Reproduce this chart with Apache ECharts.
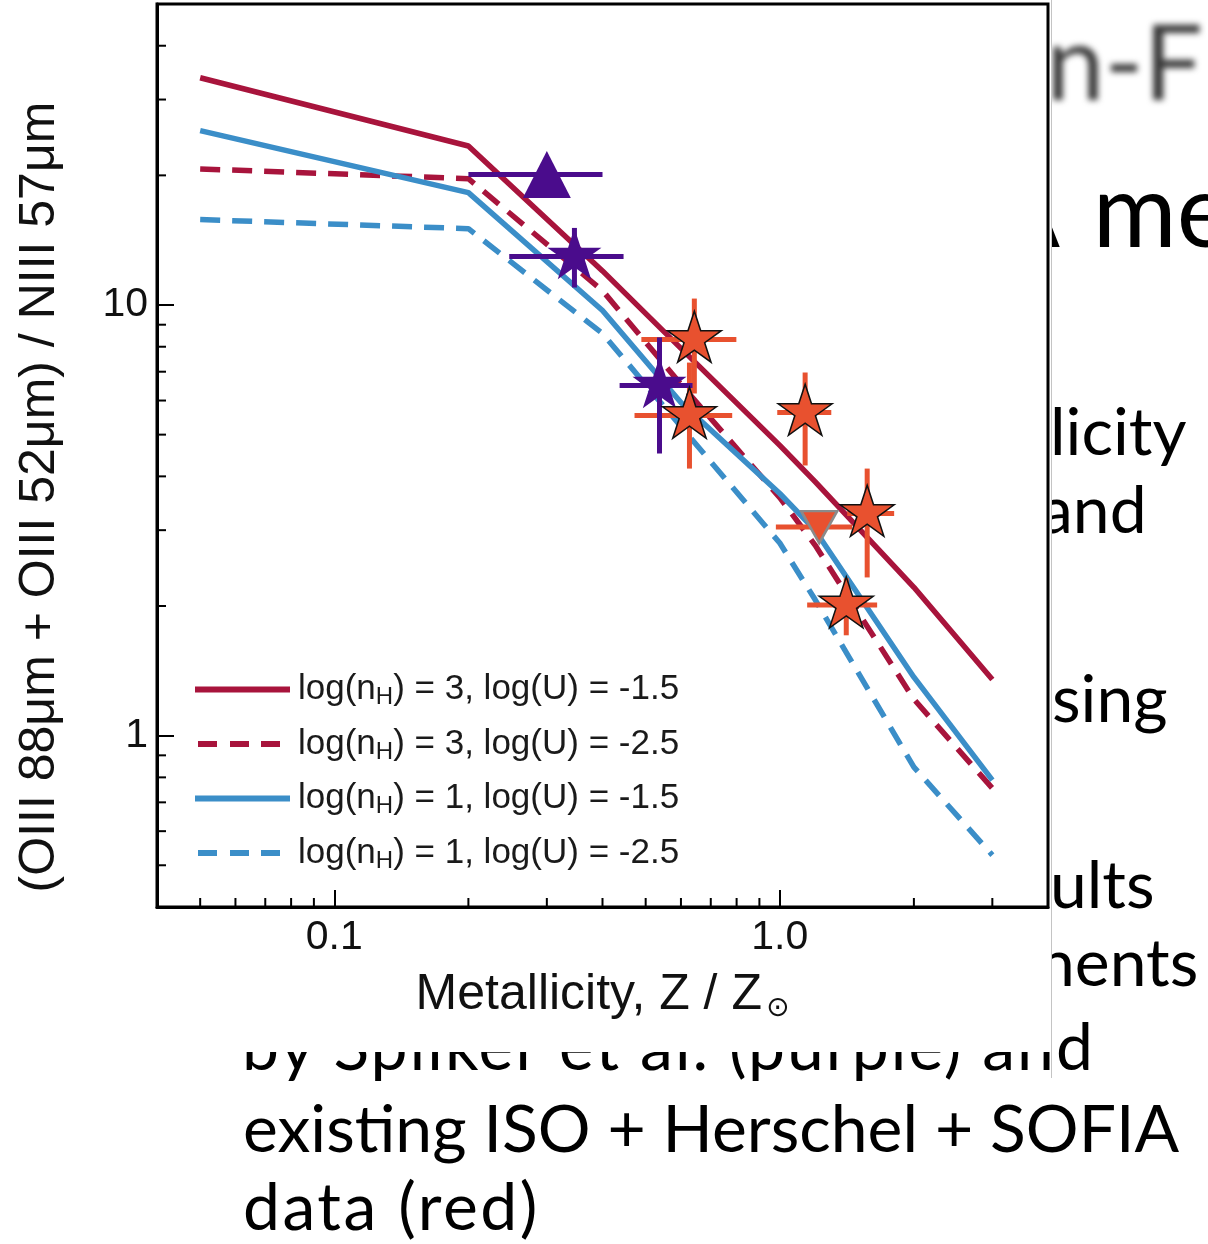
<!DOCTYPE html>
<html>
<head>
<meta charset="utf-8">
<script src="https://cdn.jsdelivr.net/npm/echarts@6/dist/echarts.min.js"></script>
<style>
  html, body { margin: 0; padding: 0; background: #fff; width: 1208px; height: 1244px; overflow: hidden; }
  .slide { position: absolute; font-family: Lato, "Open Sans", sans-serif; color: #000; white-space: nowrap; line-height: 1; z-index: 1; }
  #chart { position: absolute; left: 0; top: 0; width: 1051px; height: 1052px; background: #fff; z-index: 2; }
  #edge { position: absolute; left: 1051px; top: 0; width: 1px; height: 1078px; background: #c4c4c4; z-index: 3; }
</style>
</head>
<body>
<div class="slide" style="left:1046px; top:7px; font-size:105px; color:#3a3a3a; filter:blur(3px);">n-F</div>
<div class="slide" style="left:991px; top:157px; font-size:102px; word-spacing:10px;">A me</div>
<div class="slide" style="left:1050px; top:397px; font-size:66px;">licity</div>
<div class="slide" style="left:1040px; top:475px; font-size:66px;">and</div>
<div class="slide" style="left:1052px; top:664px; font-size:66px;">sing</div>
<div class="slide" style="left:1050px; top:850px; font-size:66px;">ults</div>
<div class="slide" style="left:1038px; top:928px; font-size:66px;">nents</div>
<div class="slide" style="left:242px; top:1012px; font-size:66px; letter-spacing:2px;">by Spilker et al. (purple) and</div>
<div class="slide" style="left:243px; top:1094px; font-size:66px;">existing ISO + Herschel + SOFIA</div>
<div class="slide" style="left:243px; top:1172px; font-size:66px; letter-spacing:2.5px;">data (red)</div>
<div id="chart"></div>
<div id="edge"></div>
<script>
// Photoionisation model grid: line ratio vs metallicity
const modelZ      = [0.05, 0.2, 0.4, 0.6, 1.0, 1.2, 2.0, 3.0];
const nH3_U15     = [33.7, 23.4, 12.0, 7.93, 4.72, 3.89, 2.21, 1.35];
const nH3_U25     = [20.7, 19.65, 10.8, 6.54, 3.57, 2.77, 1.215, 0.755];
const nH1_U15     = [25.4, 18.24, 9.71, 5.94, 3.65, 3.00, 1.367, 0.788];
const nH1_U25     = [15.79, 15.04, 8.59, 5.22, 2.80, 2.07, 0.845, 0.528];

const modelNames = [
  'log(nH) = 3, log(U) = -1.5',
  'log(nH) = 3, log(U) = -2.5',
  'log(nH) = 1, log(U) = -1.5',
  'log(nH) = 1, log(U) = -2.5'
];

// Spilker et al. measurements (purple)
const spkZ    = [0.30, 0.346, 0.537];
const spkR    = [20.1, 12.96, 6.50];
const spkZlo  = [0.20, 0.247, 0.437];
const spkZhi  = [0.40, 0.446, 0.637];
const spkRlo  = [null, 10.98, 4.52];
const spkRhi  = [null, 15.1, 8.41];
const spkKind = ['lower', 'star', 'star'];

// ISO + Herschel + SOFIA measurements (red)
const locZ    = [0.643, 0.627, 1.14, 1.571, 1.41, 1.226];
const locR    = [8.32, 5.54, 5.63, 3.28, 2.01, 3.05];
const locZlo  = [0.489, 0.472, 0.987, 1.417, 1.152, 0.98];
const locZhi  = [0.799, 0.782, 1.305, 1.806, 1.654, 1.454];
const locRlo  = [6.23, 4.17, 4.24, 2.33, 1.71, null];
const locRhi  = [10.35, 7.35, 6.97, 4.17, 2.32, null];
const locKind = ['star', 'star', 'star', 'star', 'star', 'upper'];

// axis ranges and tick values
const xRange = [0.04, 4];
const yRange = [0.4, 50];
const xMinorTicks = [0.05, 0.06, 0.07, 0.08, 0.09, 0.2, 0.3, 0.4, 0.5, 0.6, 0.7, 0.8, 0.9, 2, 3];
const yMinorTicks = [0.5, 0.6, 0.7, 0.8, 0.9, 2, 3, 4, 5, 6, 7, 8, 9, 20, 30, 40];
const xTickLabels = { '0.1': '0.1', '1': '1.0' };
const yTickLabels = { '1': '1', '10': '10' };

const RED = '#a8143c';
const BLUE = '#3b8ec8';
const PURPLE = '#4a0c8c';
const ORANGE = '#e8512f';
const FONT = '"Liberation Sans", Arial, sans-serif';
const LINE_W = 5.5;

const STAR = 'path://M0,-50L11.23,-15.45L47.55,-15.45L18.17,5.9L29.39,40.45L0,19.1L-29.39,40.45L-18.17,5.9L-47.55,-15.45L-11.23,-15.45Z';
const DASH_ICON = 'path://M0,0M95,6M3,0h19v6h-19zM35,0h19v6h-19zM66,0h19v6h-19z';

function pts(xs, ys, kinds, kind) {
  const out = [];
  xs.forEach((x, i) => { if (kinds[i] === kind) out.push([x, ys[i]]); });
  return out;
}
function tickLabel(map) {
  return function (v) {
    for (const k in map) {
      if (Math.abs(Math.log10(v) - Math.log10(+k)) < 1e-6) return map[k];
    }
    return '';
  };
}

function errorBars(xs, ys, xlo, xhi, ylo, yhi, color, z) {
  return {
    type: 'custom', z: z, silent: true,
    data: xs.map((x, i) => [x, ys[i]]),
    renderItem: function (params, api) {
      const i = params.dataIndex;
      const style = { stroke: color, lineWidth: 5, fill: null };
      const kids = [];
      if (xlo[i] != null) {
        const a = api.coord([xlo[i], ys[i]]), b = api.coord([xhi[i], ys[i]]);
        kids.push({ type: 'line', shape: { x1: a[0], y1: a[1], x2: b[0], y2: b[1] }, style: style });
      }
      if (ylo[i] != null) {
        const a = api.coord([xs[i], ylo[i]]), b = api.coord([xs[i], yhi[i]]);
        kids.push({ type: 'line', shape: { x1: a[0], y1: a[1], x2: b[0], y2: b[1] }, style: style });
      }
      return { type: 'group', children: kids };
    }
  };
}

function minorTicks(values, onX) {
  return {
    type: 'custom', z: 3, silent: true,
    data: values.map(v => onX ? [v, yRange[0]] : [xRange[0], v]),
    renderItem: function (params, api) {
      const p = api.coord([api.value(0), api.value(1)]);
      const shape = onX
        ? { x1: p[0], y1: p[1], x2: p[0], y2: p[1] - 9 }
        : { x1: p[0], y1: p[1], x2: p[0] + 9, y2: p[1] };
      return { type: 'line', shape: shape, style: { stroke: '#000', lineWidth: 2 } };
    }
  };
}

function modelLine(name, values, color, dashed) {
  return {
    name: name, type: 'line', symbol: 'none', z: 2, silent: true,
    data: modelZ.map((z, i) => [z, values[i]]),
    lineStyle: { color: color, width: LINE_W, type: dashed ? [20, 12] : 'solid', cap: 'butt' },
    itemStyle: { color: color }
  };
}

const legendRich = {
  a: { fontFamily: FONT, fontSize: 35, color: '#1a1a1a', lineHeight: 40, verticalAlign: 'middle' },
  s: { fontFamily: FONT, fontSize: 24, color: '#1a1a1a', lineHeight: 26, verticalAlign: 'bottom' }
};

const chart = echarts.init(document.getElementById('chart'), null, { renderer: 'canvas' });
chart.setOption({
  animation: false,
  backgroundColor: '#fff',
  grid: { left: 157, top: 4, right: 3, bottom: 145, show: true, borderColor: '#000', borderWidth: 3, backgroundColor: 'transparent' },
  xAxis: {
    type: 'log', logBase: 10, min: xRange[0], max: xRange[1],
    axisLine: { show: true, lineStyle: { color: '#000', width: 3 } },
    axisTick: { show: true, inside: true, length: 17, lineStyle: { color: '#000', width: 2 } },
    axisLabel: { formatter: tickLabel(xTickLabels), fontFamily: FONT, fontSize: 41, color: '#111', margin: 10, showMinLabel: false, showMaxLabel: false },
    splitLine: { show: false },
    name: '{a|Metallicity, Z / Z}{o|⊙}',
    nameLocation: 'middle', nameGap: 60,
    nameTextStyle: {
      rich: {
        a: { fontFamily: FONT, fontSize: 50, color: '#111', lineHeight: 56, verticalAlign: 'middle' },
        o: { fontFamily: '"DejaVu Sans", sans-serif', fontSize: 28, color: '#111', lineHeight: 30, verticalAlign: 'bottom', padding: [0, 0, 0, 4] }
      }
    }
  },
  yAxis: {
    type: 'log', logBase: 10, min: yRange[0], max: yRange[1],
    axisLine: { show: true, lineStyle: { color: '#000', width: 3 } },
    axisTick: { show: true, inside: true, length: 17, lineStyle: { color: '#000', width: 2 } },
    axisLabel: { formatter: tickLabel(yTickLabels), fontFamily: FONT, fontSize: 41, color: '#111', margin: 9, showMinLabel: false, showMaxLabel: false },
    splitLine: { show: false }
  },
  legend: {
    orient: 'vertical', left: 190, top: 667,
    itemWidth: 95, itemHeight: 6, itemGap: 17,
    selectedMode: false,
    data: [
      { name: modelNames[0], icon: 'rect' },
      { name: modelNames[1], icon: DASH_ICON },
      { name: modelNames[2], icon: 'rect' },
      { name: modelNames[3], icon: DASH_ICON }
    ],
    textStyle: { padding: [0, 0, 0, 3], rich: legendRich },
    formatter: function (name) {
      const parts = name.split('nH');
      return '{a|' + parts[0] + 'n}{s|H}{a|' + parts[1] + '}';
    }
  },
  graphic: [{
    type: 'text', x: 40, y: 497, rotation: Math.PI / 2, silent: true,
    style: { text: '(OIII 88μm + OIII 52μm) / NIII 57μm', font: '50px "Liberation Sans", Arial, sans-serif', fill: '#111', align: 'center', verticalAlign: 'middle' }
  }],
  series: [
    modelLine(modelNames[0], nH3_U15, RED, false),
    modelLine(modelNames[1], nH3_U25, RED, true),
    modelLine(modelNames[2], nH1_U15, BLUE, false),
    modelLine(modelNames[3], nH1_U25, BLUE, true),
    minorTicks(xMinorTicks, true),
    minorTicks(yMinorTicks, false),
    errorBars(locZ, locR, locZlo, locZhi, locRlo, locRhi, ORANGE, 4),
    errorBars(spkZ, spkR, spkZlo, spkZhi, spkRlo, spkRhi, PURPLE, 5),
    {
      type: 'scatter', z: 6, silent: true,
      data: pts(spkZ, spkR, spkKind, 'lower'),
      symbol: 'triangle', symbolSize: [48, 47],
      itemStyle: { color: PURPLE, opacity: 1 }
    },
    {
      type: 'scatter', z: 6, silent: true,
      data: pts(spkZ, spkR, spkKind, 'star'),
      symbol: STAR, symbolSize: [54, 51], symbolOffset: [0, -2.7],
      itemStyle: { color: PURPLE, opacity: 1 }
    },
    {
      type: 'scatter', z: 7, silent: true,
      data: pts(locZ, locR, locKind, 'upper'),
      symbol: 'triangle', symbolRotate: 180, symbolSize: [36, 32],
      itemStyle: { color: ORANGE, borderColor: '#8a8a8a', borderWidth: 2.5, opacity: 1 }
    },
    {
      type: 'scatter', z: 7, silent: true,
      data: pts(locZ, locR, locKind, 'star'),
      symbol: STAR, symbolSize: [54, 51], symbolOffset: [0, -2.7],
      itemStyle: { color: ORANGE, borderColor: '#111', borderWidth: 1.5, opacity: 1 }
    }
  ]
});
</script>
</body>
</html>
